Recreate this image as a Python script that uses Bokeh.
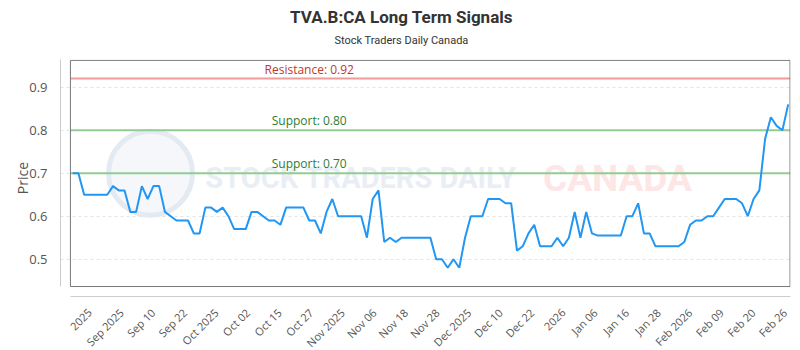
import numpy as np
from math import pi
from bokeh.plotting import figure
from bokeh.layouts import column
from bokeh.models import Label, FixedTicker, BoxAnnotation, Range1d
from bokeh.core.properties import value
from bokeh.embed import file_html
from bokeh.resources import INLINE

# ---------------- data ----------------
prices = [
    0.70, 0.70, 0.65, 0.65, 0.65, 0.65, 0.65, 0.67, 0.66, 0.66,
    0.61, 0.61, 0.67, 0.64, 0.67, 0.67, 0.61, 0.60, 0.59, 0.59,
    0.59, 0.56, 0.56, 0.62, 0.62, 0.61, 0.62, 0.60, 0.57, 0.57,
    0.57, 0.61, 0.61, 0.60, 0.59, 0.59, 0.58, 0.62, 0.62, 0.62,
    0.62, 0.59, 0.59, 0.56, 0.61, 0.64, 0.60, 0.60, 0.60, 0.60,
    0.60, 0.55, 0.64, 0.66, 0.54, 0.55, 0.54, 0.55, 0.55, 0.55,
    0.55, 0.55, 0.55, 0.50, 0.50, 0.48, 0.50, 0.48, 0.55, 0.60,
    0.60, 0.60, 0.64, 0.64, 0.64, 0.63, 0.63, 0.52, 0.53, 0.56,
    0.58, 0.53, 0.53, 0.53, 0.55, 0.53, 0.55, 0.61, 0.55, 0.61,
    0.56, 0.555, 0.555, 0.555, 0.555, 0.555, 0.60, 0.60, 0.63, 0.56,
    0.56, 0.53, 0.53, 0.53, 0.53, 0.53, 0.54, 0.58, 0.59, 0.59,
    0.60, 0.60, 0.62, 0.64, 0.64, 0.64, 0.63, 0.60, 0.64, 0.66,
    0.78, 0.83, 0.81, 0.80, 0.86,
]
tick_labels = [
    "2025", "Sep 2025", "Sep 10", "Sep 22", "Oct 2025", "Oct 02", "Oct 15",
    "Oct 27", "Nov 2025", "Nov 06", "Nov 18", "Nov 28", "Dec 2025", "Dec 10",
    "Dec 22", "2026", "Jan 06", "Jan 16", "Jan 28", "Feb 2026", "Feb 09",
    "Feb 20", "Feb 26",
]
y_ticks = [0.5, 0.6, 0.7, 0.8, 0.9]
resistance_levels = [0.92]
support_levels = [0.80, 0.70]

title_text = "TVA.B:CA Long Term Signals"
subtitle_text = "Stock Traders Daily Canada"

W = 800
LEFT, RIGHT = 60, 10

# ---------------- title strip ----------------
head = figure(width=W, height=59, output_backend="svg", toolbar_location=None,
              x_range=Range1d(LEFT, W - RIGHT), y_range=Range1d(59, 0),
              min_border_left=LEFT, min_border_right=RIGHT, min_border_top=0,
              min_border_bottom=0, x_axis_location=None, y_axis_location=None)
head.outline_line_color = None
head.xgrid.visible = False
head.ygrid.visible = False
head.text(x=[W / 2 + 1], y=[16], text=[title_text], text_font=value("Roboto"),
          text_font_size="17px", text_font_style="bold", text_color="#333333",
          text_align="center", text_baseline="middle")
head.text(x=[W / 2 + 1], y=[40], text=[subtitle_text], text_font=value("Roboto"),
          text_font_size="11px", text_color="#333333",
          text_align="center", text_baseline="middle")

# ---------------- main figure ----------------
n = len(prices)
xs = np.arange(n)

X0, X1 = -2.1, n - 1 + 0.4
Y0, Y1 = 0.4133, 0.9644
inner_left = -0.38
inner_bottom = 0.4365

p = figure(width=W, height=241, output_backend="svg", toolbar_location=None,
           x_range=Range1d(X0, X1), y_range=Range1d(Y0, Y1),
           min_border_left=LEFT, min_border_right=RIGHT, min_border_top=0,
           min_border_bottom=4, title=None)
p.outline_line_color = None
p.background_fill_color = "white"
p.border_fill_color = "white"

# grid
p.xgrid.grid_line_color = None
p.ygrid.grid_line_color = "#e3e3e3"
p.ygrid.grid_line_dash = "3 3"
p.ygrid.ticker = FixedTicker(ticks=y_ticks)

# y axis
p.yaxis.ticker = FixedTicker(ticks=y_ticks)
p.yaxis.bounds = (inner_bottom, Y1)
p.yaxis.axis_line_color = "#cccccc"
p.yaxis.major_tick_line_color = None
p.yaxis.minor_tick_line_color = None
p.yaxis.major_label_text_font = "Open Sans"
p.yaxis.major_label_text_font_size = "13px"
p.yaxis.major_label_text_color = "#555555"
p.yaxis.major_label_standoff = 7
p.yaxis.axis_label = "Price"
p.yaxis.axis_label_text_font = "Open Sans"
p.yaxis.axis_label_text_font_size = "14px"
p.yaxis.axis_label_text_font_style = "normal"
p.yaxis.axis_label_text_color = "#555555"
p.yaxis.axis_label_standoff = -6

# x axis line only (labels in the strip below)
p.xaxis.ticker = FixedTicker(ticks=[])
p.xaxis.bounds = (inner_left, X1)
p.xaxis.axis_line_color = "#cccccc"
p.xaxis.major_tick_line_color = None
p.xaxis.minor_tick_line_color = None
p.xaxis.major_tick_out = 0
p.xaxis.major_label_standoff = 0

# inner plot border
p.add_layout(BoxAnnotation(left=inner_left, right=X1 - 0.08, bottom=inner_bottom,
                           top=Y1 - 0.002, fill_alpha=0, fill_color=None,
                           line_color="#777777", line_width=1, line_alpha=1))

# watermark
p.scatter(x=[13.5], y=[0.70], size=84, marker="circle", fill_color="#f5f7fb",
          line_color="#e4eaf2", line_width=5)
p.text(x=[23], y=[0.688], text=["STOCK TRADERS DAILY"], text_font=value("Roboto"),
       text_font_size="29px", text_font_style="bold", text_color="#e9eef5",
       text_baseline="middle", text_align="left")
p.text(x=[81.5], y=[0.688], text=["CANADA"], text_font=value("Roboto"),
       text_font_size="37px", text_font_style="bold", text_color="#fde6e6",
       text_baseline="middle", text_align="left")

# levels
label_x = n // 3
p.segment(x0=[inner_left] * len(resistance_levels), x1=[X1] * len(resistance_levels),
          y0=resistance_levels, y1=resistance_levels, line_color="#f19a9a",
          line_width=2)
p.segment(x0=[inner_left] * len(support_levels), x1=[X1] * len(support_levels),
          y0=support_levels, y1=support_levels, line_color="#92cc92", line_width=2)
for lvl in resistance_levels:
    p.add_layout(Label(x=label_x, y=lvl, text=f"Resistance: {lvl:.2f}",
                       text_align="center", text_baseline="bottom", y_offset=1,
                       text_font="Open Sans", text_font_size="12px",
                       text_color="#c0392b"))
for lvl in support_levels:
    p.add_layout(Label(x=label_x, y=lvl, text=f"Support: {lvl:.2f}",
                       text_align="center", text_baseline="bottom", y_offset=1,
                       text_font="Open Sans", text_font_size="12px",
                       text_color="#2e7d32"))

# price line
p.line(xs, prices, line_color="#2196f3", line_width=2)

# ---------------- x tick label strip ----------------
tick_pos = list(np.linspace(3.0, 123.4, len(tick_labels)))
strip = figure(width=W, height=50, output_backend="svg", toolbar_location=None,
               x_range=p.x_range, y_range=Range1d(-50, 0),
               min_border_left=LEFT, min_border_right=RIGHT, min_border_top=0,
               min_border_bottom=0, x_axis_location=None, y_axis_location=None)
strip.outline_line_color = None
strip.xgrid.visible = False
strip.ygrid.visible = False
strip.text(x=tick_pos, y=[-10] * len(tick_labels), text=tick_labels, angle=pi / 4,
           text_align="right", text_baseline="middle", text_font=value("Open Sans"),
           text_font_size="11px", text_color="#555555")

layout = column(head, p, strip, spacing=0)
open("out.html", "w").write(file_html(layout, INLINE))
